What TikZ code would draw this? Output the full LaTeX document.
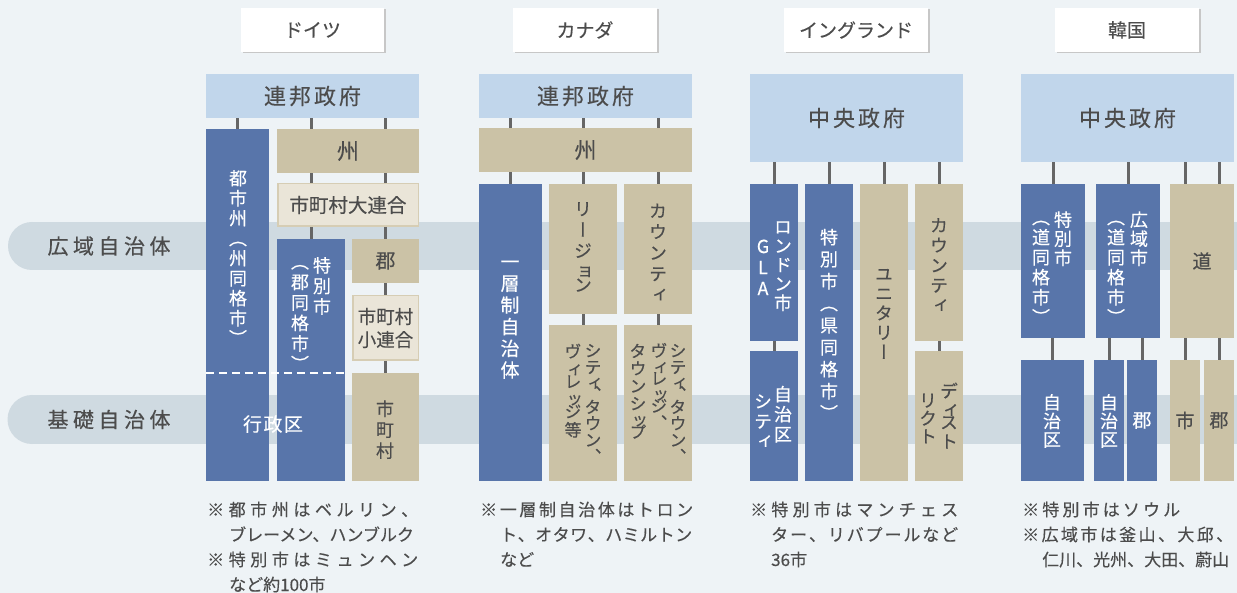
\documentclass[tikz,border=0pt]{standalone}
\usepackage{fontspec}
\setmainfont{Noto Sans CJK JP}[FakeBold=0.3]
\newfontfamily\tatefont{Noto Sans CJK JP}[RawFeature=+vert, FakeBold=0.3]
\usetikzlibrary{shadows}

\definecolor{bgcol}{HTML}{EEF3F6}
\definecolor{bandcol}{HTML}{CFDAE1}
\definecolor{govcol}{HTML}{C1D6EB}
\definecolor{bluecol}{HTML}{5875AA}
\definecolor{tancol}{HTML}{CBC2A6}
\definecolor{palecol}{HTML}{EAE5D8}
\definecolor{paleedge}{HTML}{D6CDB4}
\definecolor{tickcol}{HTML}{666666}
\definecolor{txtcol}{HTML}{4C4C4C}

\makeatletter
\newlength\tpitch
\def\tate@end{\tate@end}
% one character per line, vertical forms
\newcommand\tate[2][20pt]{\vbox{\offinterlineskip\tatefont\setlength\tpitch{#1}\tate@loop#2\tate@end}}
\def\tate@loop#1{\ifx#1\tate@end\else\tate@cell{#1}\expandafter\tate@loop\fi}
\def\tate@cell#1{\dimen@=\tpitch
  \in@{#1}{ィッョ}\ifin@\dimen@=.62\tpitch\fi
  \in@{#1}{、}\ifin@\dimen@=.8\tpitch\fi
  \vbox to\dimen@{\kern\dimexpr.5\tpitch+.38em\relax\hbox to 1em{\hss\smash{#1}\hss}\vss}}
% letter spacing
\newcommand\tracked[2]{\def\trk@sk{#1}\trk@loop#2\tate@end}
\def\trk@loop#1{\ifx#1\tate@end\unskip\else#1\hskip\trk@sk\relax\expandafter\trk@loop\fi}
\makeatother

\tikzset{
  wh/.style 2 args={minimum width=#1pt, minimum height=#2pt},
  plain box/.style={inner sep=0pt, text=txtcol},
  gov box/.style={plain box, fill=govcol, font=\fontsize{22}{22}\selectfont},
  blue box/.style={plain box, fill=bluecol, text=white},
  tan box/.style={plain box, fill=tancol},
  pale box/.style={plain box, fill=palecol, draw=paleedge, line width=1.5pt},
  head box/.style={plain box, fill=white, font=\fontsize{19}{19}\selectfont,
    drop shadow={shadow xshift=1.5pt, shadow yshift=-1.5pt, fill=black!22, opacity=1}},
  tick line/.style={draw=tickcol, line width=3pt},
  tate/.style={inner sep=0pt, anchor=north, font=\fontsize{#1}{#1}\selectfont},
  tate/.default=18,
  band label/.style={text=txtcol, inner sep=0pt, font=\fontsize{21}{21}\selectfont},
  note/.style={inner sep=0pt, anchor=base west, align=left, text=txtcol,
    font=\fontsize{17}{25}\selectfont},
}

\begin{document}
\begin{tikzpicture}[x=1pt, y=-1pt]
\useasboundingbox (0,0) rectangle (1237,593);
\fill[bgcol] (0,0) rectangle (1237,593);

% bands
\fill[bandcol] (32,222) rectangle (1237,270);
\fill[bandcol] (32,246) circle (24pt);
\fill[bandcol] (32,395) rectangle (1237,444);
\fill[bandcol] (32,419.5) circle (24.5pt);
\node[band label] (wide) at (109,246) {\tracked{4.5pt}{広域自治体}};
\node[band label] (basic) at (109,419.5) {\tracked{4.5pt}{基礎自治体}};

% headers
\node[head box, wh={143}{44}] (hd-ger) at (312.5,30) {ドイツ};
\node[head box, wh={144}{44}] (hd-can) at (585,30) {カナダ};
\node[head box, wh={144}{44}] (hd-eng) at (856,30) {イングランド};
\node[head box, wh={144}{44}] (hd-kor) at (1127,30) {韓国};

% Germany
\node[gov box, wh={213}{44}] (ger-fed) at (312.5,96) {\tracked{3pt}{連邦政府}};
\node[blue box, wh={63}{352}] (ger-toshi) at (237.5,305) {};
\node[tan box, wh={142}{44}, font=\fontsize{22}{22}\selectfont] (ger-shu) at (348,151) {州};
\node[pale box, wh={140.5}{42.5}, font=\fontsize{19.5}{19.5}\selectfont] (ger-dai) at (348,205) {市町村大連合};
\node[blue box, wh={68}{242}] (ger-toku) at (311,360) {};
\node[tan box, wh={67}{44}, font=\fontsize{20}{20}\selectfont] (ger-gun) at (385.5,261) {郡};
\node[pale box, wh={65.5}{64.5}, align=center, font=\fontsize{18.5}{23}\selectfont] (ger-sho) at (385.5,328) {市町村\\小連合};
\node[tan box, wh={67}{108}] (ger-shi) at (385.5,427) {};

\draw[white, line width=2pt, dash pattern=on 8pt off 5pt]
  (ger-toshi.west |- ger-shi.north) -- (ger-toku.east |- ger-shi.north);

\draw[tick line] (ger-fed.south -| ger-toshi.north) -- (ger-toshi.north);
\foreach \n in {toku,gun} {
  \draw[tick line] (ger-fed.south -| ger-\n.north) -- (ger-shu.north -| ger-\n.north);
  \draw[tick line] (ger-shu.south -| ger-\n.north) -- (ger-dai.north -| ger-\n.north);
  \draw[tick line] (ger-dai.south -| ger-\n.north) -- (ger-\n.north);
}
\draw[tick line] (ger-gun.south) -- (ger-sho.north);
\draw[tick line] (ger-sho.south) -- (ger-shi.north);

\node[tate, text=white] (ger-toshi-t) at (238,168) {\tate[20pt]{都市州（州同格市）}};
\node[tate, text=white] (ger-toku-t1) at (322,255) {\tate[20.5pt]{特別市}};
\node[tate, text=white] (ger-toku-t2) at (300,251) {\tate[20.5pt]{（郡同格市）}};
\node[tate, text=txtcol] (ger-shi-t) at (385,398) {\tate[21pt]{市町村}};
\node[text=white, inner sep=0pt, font=\fontsize{19}{19}\selectfont] (ger-ku) at (273,424) {\tracked{1.5pt}{行政区}};

% Canada
\node[gov box, wh={213}{44}] (can-fed) at (585.5,96) {\tracked{3pt}{連邦政府}};
\node[tan box, wh={213}{44}, font=\fontsize{22}{22}\selectfont] (can-shu) at (585.5,150) {州};
\node[blue box, wh={63}{297}] (can-ichi) at (510.5,332.5) {};
\node[tan box, wh={68}{130}] (can-region) at (583,249) {};
\node[tan box, wh={68}{130}] (can-county) at (658,249) {};
\node[tan box, wh={68}{156}] (can-region-city) at (583,403) {};
\node[tan box, wh={68}{156}] (can-county-city) at (658,403) {};

\foreach \n in {ichi,region,county} {
  \draw[tick line] (can-fed.south -| can-\n.north) -- (can-shu.north -| can-\n.north);
  \draw[tick line] (can-shu.south -| can-\n.north) -- (can-\n.north);
}
\foreach \n in {region,county}
  \draw[tick line] (can-\n.south) -- (can-\n-city.north);

\node[tate=19, text=white] (can-ichi-t) at (510,250.5) {\tate[21.7pt]{一層制自治体}};
\node[tate, text=txtcol] (can-region-t) at (583,198) {\tate[21pt]{リージョン}};
\node[tate, text=txtcol] (can-county-t) at (658,200) {\tate[21pt]{カウンティ}};
\node[tate=17, text=txtcol] (can-rc-t1) at (593,342) {\tate[16.5pt]{シティ、タウン、}};
\node[tate=17, text=txtcol] (can-rc-t2) at (573,342) {\tate[18.5pt]{ヴィレッジ等}};
\node[tate=17, text=txtcol] (can-cc-t1) at (678,342) {\tate[16.5pt]{シティ、タウン、}};
\node[tate=17, text=txtcol] (can-cc-t2) at (659,342) {\tate[17pt]{ヴィレッジ、}};
\node[tate=17, text=txtcol] (can-cc-t3) at (638,342) {\tate[17.5pt]{タウンシップ}};

% England
\node[gov box, wh={213}{88}] (eng-gov) at (856.5,118) {\tracked{3pt}{中央政府}};
\node[blue box, wh={48}{157}] (eng-london) at (774,262.5) {};
\node[blue box, wh={48}{130}] (eng-borough) at (774,416) {};
\node[blue box, wh={48}{297}] (eng-toku) at (829,332.5) {};
\node[tan box, wh={48}{297}] (eng-unitary) at (884,332.5) {};
\node[tan box, wh={48}{157}] (eng-county) at (939,262.5) {};
\node[tan box, wh={48}{130}] (eng-district) at (939,416) {};

\foreach \n in {london,toku,unitary,county}
  \draw[tick line] (eng-gov.south -| eng-\n.north) -- (eng-\n.north);
\draw[tick line] (eng-london.south) -- (eng-borough.north);
\draw[tick line] (eng-county.south) -- (eng-district.north);

\node[tate, text=white] (eng-london-t1) at (783,217) {\tate[19pt]{ロンドン市}};
\node[tate, text=white] (eng-london-t2) at (763,235.5) {\tate[21pt]{GLA}};
\node[tate, text=white] (eng-borough-t1) at (783,384) {\tate[20pt]{自治区}};
\node[tate, text=white] (eng-borough-t2) at (763,391) {\tate[20pt]{シティ}};
\node[tate, text=white] (eng-toku-t) at (829,226) {\tate[22pt]{特別市（県同格市）}};
\node[tate, text=txtcol] (eng-unitary-t) at (884,264) {\tate[19.5pt]{ユニタリー}};
\node[tate, text=txtcol] (eng-county-t) at (939,215) {\tate[20pt]{カウンティ}};
\node[tate, text=txtcol] (eng-district-t1) at (949,381) {\tate[19.3pt]{ディスト}};
\node[tate, text=txtcol] (eng-district-t2) at (928,391) {\tate[18pt]{リクト}};

% Korea
\node[gov box, wh={213}{88}] (kor-gov) at (1127.5,118) {\tracked{3pt}{中央政府}};
\node[blue box, wh={64}{154}] (kor-toku) at (1053,261) {};
\node[blue box, wh={64}{154}] (kor-koiki) at (1128,261) {};
\node[tan box, wh={64}{154}, font=\fontsize{19}{19}\selectfont] (kor-do) at (1202,261) {道};
\node[blue box, wh={63}{121}] (kor-jichi-a) at (1052.5,420.5) {};
\node[blue box, wh={30}{121}] (kor-jichi-b) at (1109,420.5) {};
\node[blue box, wh={30}{121}, font=\fontsize{19}{19}\selectfont] (kor-gun-a) at (1142,420.5) {郡};
\node[tan box, wh={30}{121}, font=\fontsize{19}{19}\selectfont] (kor-shi) at (1185,420.5) {市};
\node[tan box, wh={30}{121}, font=\fontsize{19}{19}\selectfont] (kor-gun-b) at (1219,420.5) {郡};

\foreach \n in {toku,koiki}
  \draw[tick line] (kor-gov.south -| kor-\n.north) -- (kor-\n.north);
\foreach \n in {shi,gun-b} {
  \draw[tick line] (kor-gov.south -| kor-\n.north) -- (kor-do.north -| kor-\n.north);
  \draw[tick line] (kor-do.south -| kor-\n.north) -- (kor-\n.north);
}
\draw[tick line] (kor-toku.south -| kor-jichi-a.north) -- (kor-jichi-a.north);
\foreach \n in {jichi-b,gun-a}
  \draw[tick line] (kor-koiki.south -| kor-\n.north) -- (kor-\n.north);

\node[tate, text=white] (kor-toku-t1) at (1063,210) {\tate[19pt]{特別市}};
\node[tate, text=white] (kor-toku-t2) at (1041,207) {\tate[20pt]{（道同格市）}};
\node[tate, text=white] (kor-koiki-t1) at (1139,210) {\tate[19pt]{広域市}};
\node[tate, text=white] (kor-koiki-t2) at (1116,207) {\tate[20pt]{（道同格市）}};
\node[tate, text=white] (kor-jichi-a-t) at (1052,393) {\tate[18.5pt]{自治区}};
\node[tate, text=white] (kor-jichi-b-t) at (1109,393) {\tate[18.5pt]{自治区}};

% notes (anchored at the baseline of the last line)
\node[note] (ger-note) at (207,591) {\makebox[211pt][s]{\tracked{0pt plus 1fil}{※都市州はベルリン、}}\\
  \hspace*{22pt}ブレーメン、ハンブルク\\
  \makebox[211pt][s]{\tracked{0pt plus 1fil}{※特別市はミュンヘン}}\\
  \hspace*{22pt}など約100市};
\node[note] (can-note) at (480,566) {\makebox[213pt][s]{\tracked{0pt plus 1fil}{※一層制自治体はトロン}}\\
  \hspace*{20pt}\makebox[192pt][s]{\tracked{0pt plus 1fil}{ト、オタワ、ハミルトン}}\\
  \hspace*{20pt}など};
\node[note] (eng-note) at (750,566) {\makebox[208pt][s]{\tracked{0pt plus 1fil}{※特別市はマンチェス}}\\
  \hspace*{21pt}\makebox[187pt][s]{\tracked{0pt plus 1fil}{ター、リバプールなど}}\\
  \hspace*{21pt}36市};
\node[note] (kor-note) at (1022,566) {\makebox[158pt][s]{\tracked{0pt plus 1fil}{※特別市はソウル}}\\
  \makebox[211pt][s]{\tracked{0pt plus 1fil}{※広域市は釜山、大邱、}}\\
  \hspace*{20pt}仁川、光州、大田、蔚山};
\end{tikzpicture}
\end{document}
